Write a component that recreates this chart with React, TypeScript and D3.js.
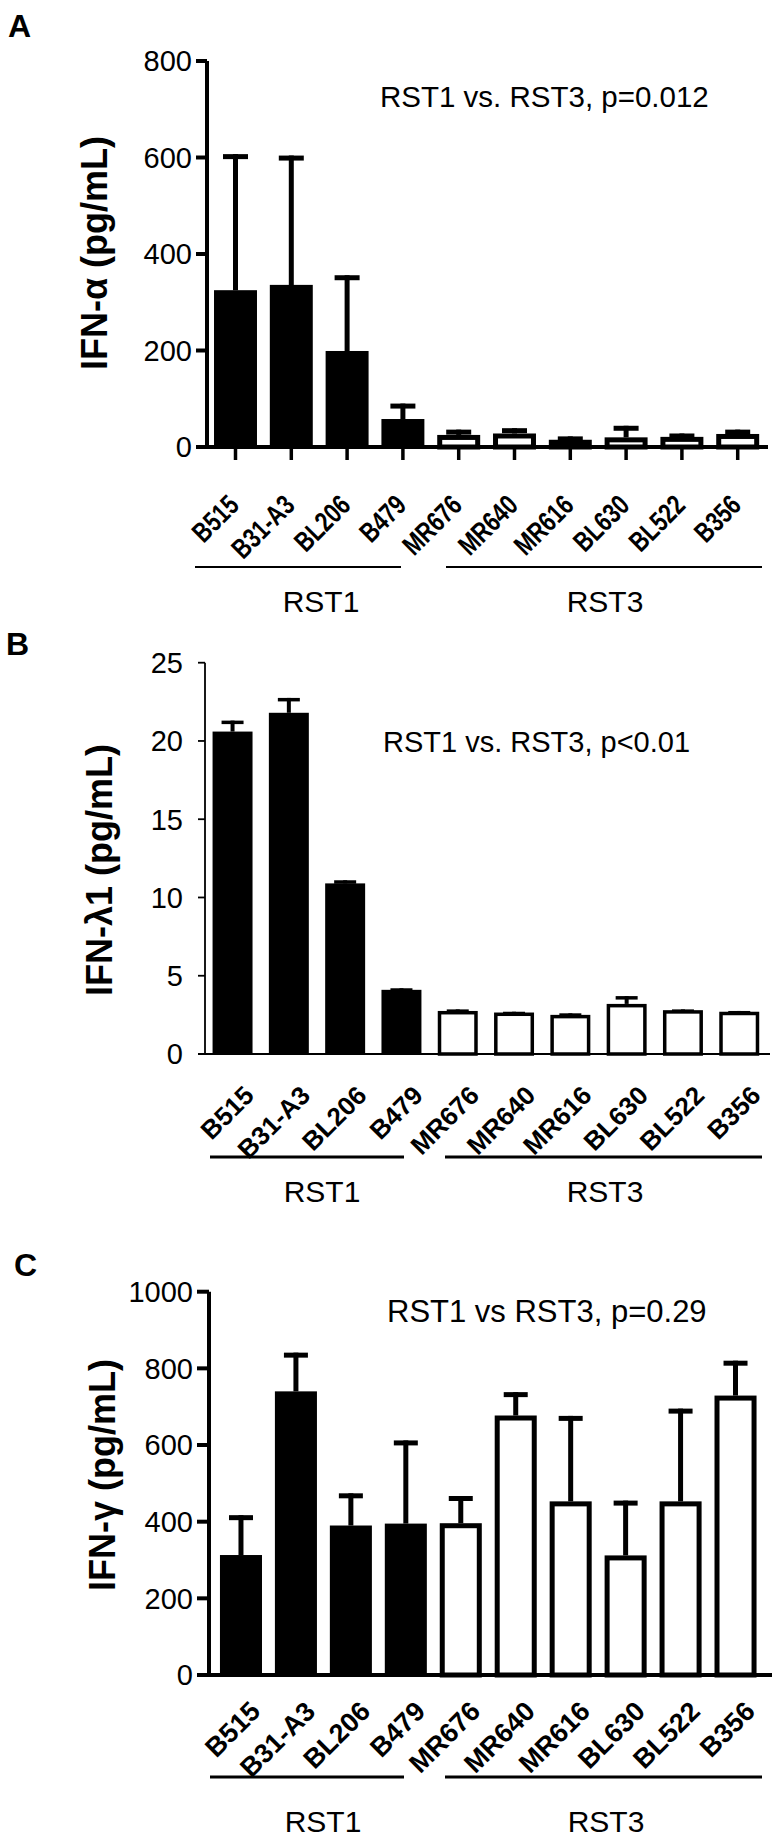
import React from 'react';
import * as d3 from 'd3';

const strains = ['B515', 'B31-A3', 'BL206', 'B479', 'MR676', 'MR640', 'MR616', 'BL630', 'BL522', 'B356'];
const strainGroup = ['RST1', 'RST1', 'RST1', 'RST1', 'RST3', 'RST3', 'RST3', 'RST3', 'RST3', 'RST3'];
const groupNames = ['RST1', 'RST3'];

const ifnAlphaMean = [325, 336, 199, 58, 25, 28, 15, 20, 21, 27];
const ifnAlphaSem = [282, 268, 157, 32, 11, 11, 7, 24, 7, 9];
const ifnAlphaTicks = [0, 200, 400, 600, 800];

const ifnLambdaMean = [20.6, 21.8, 10.9, 4.1, 2.75, 2.65, 2.5, 3.2, 2.8, 2.7];
const ifnLambdaSem = [0.7, 0.95, 0.2, 0.1, 0.1, 0.05, 0.1, 0.5, 0.05, 0.05];
const ifnLambdaTicks = [0, 5, 10, 15, 20, 25];

const ifnGammaMean = [313, 740, 390, 395, 396, 677, 453, 312, 453, 729];
const ifnGammaSem = [104, 101, 84, 217, 71, 61, 223, 143, 242, 91];
const ifnGammaTicks = [0, 200, 400, 600, 800, 1000];

const FONT = "'Liberation Sans', Arial, Helvetica, sans-serif";

type PanelCfg = {
  letter: string;
  letterX: number;
  letterY: number;
  means: number[];
  sems: number[];
  ticks: number[];
  yMax: number;
  yTop: number;
  y0: number;
  yAxisX: number;
  bandStart: number;
  bandEnd: number;
  bandPad: number;
  xAxisEnd: number;
  axisW: number;
  yTickLen: number;
  xTicks: boolean;
  tickLabelRight: number;
  barStroke: number;
  errStem: number;
  capW: number;
  capH: number;
  yLabel: string;
  yLabelX: number;
  yLabelY: number;
  note: string;
  noteX: number;
  noteY: number;
  noteSize: number;
  lblDx: number;
  lblY: number;
  lblSize: number;
  lblScaleX: number;
  lblAngle: number;
  lineY: number;
  lineSpans: [number, number][];
  lineW: number;
  grpX: number[];
  grpY: number;
};

function Panel({ c }: { c: PanelCfg }) {
  const x = d3
    .scaleBand<string>()
    .domain(strains)
    .range([c.bandStart, c.bandEnd])
    .paddingInner(c.bandPad)
    .paddingOuter(c.bandPad / 2);
  const y = d3.scaleLinear().domain([0, c.yMax]).range([c.y0, c.yTop]);
  const bw = x.bandwidth();
  return (
    <g>
      <text x={c.letterX} y={c.letterY} fontFamily={FONT} fontWeight="bold" fontSize={32}>
        {c.letter}
      </text>
      {strains.map((s, i) => {
        const x0 = x(s)!;
        const cx = x0 + bw / 2;
        const top = y(c.means[i]);
        const errTop = y(c.means[i] + c.sems[i]);
        const filled = strainGroup[i] === 'RST1';
        return (
          <g key={s}>
            <line x1={cx} x2={cx} y1={top} y2={errTop} stroke="#000" strokeWidth={c.errStem} />
            <line
              x1={cx - c.capW / 2}
              x2={cx + c.capW / 2}
              y1={errTop + c.capH / 2}
              y2={errTop + c.capH / 2}
              stroke="#000"
              strokeWidth={c.capH}
            />
            {filled ? (
              <rect x={x0} y={top} width={bw} height={c.y0 - top} fill="#000" />
            ) : (
              <rect
                x={x0 + c.barStroke / 2}
                y={top + c.barStroke / 2}
                width={bw - c.barStroke}
                height={Math.max(0, c.y0 - top - c.barStroke / 2)}
                fill="#fff"
                stroke="#000"
                strokeWidth={c.barStroke}
              />
            )}
          </g>
        );
      })}
      <line x1={c.yAxisX} x2={c.yAxisX} y1={c.yTop} y2={c.y0 + c.axisW / 2} stroke="#000" strokeWidth={c.axisW} />
      {c.ticks.map((t) => (
        <g key={t}>
          <line
            x1={c.yAxisX - c.yTickLen}
            x2={c.yAxisX}
            y1={y(t)}
            y2={y(t)}
            stroke="#000"
            strokeWidth={c.axisW}
          />
          <text
            x={c.tickLabelRight}
            y={y(t)}
            dy="0.36em"
            textAnchor="end"
            fontFamily={FONT}
            fontSize={29}
          >
            {t}
          </text>
        </g>
      ))}
      <line x1={c.yAxisX - c.yTickLen} x2={c.xAxisEnd} y1={c.y0} y2={c.y0} stroke="#000" strokeWidth={c.axisW} />
      {c.xTicks &&
        strains.map((s) => {
          const cx = x(s)! + bw / 2;
          return <line key={s} x1={cx} x2={cx} y1={c.y0} y2={c.y0 + 13} stroke="#000" strokeWidth={3.5} />;
        })}
      {strains.map((s) => {
        const cx = x(s)! + bw / 2;
        return (
          <text
            key={s}
            transform={`translate(${cx + c.lblDx},${c.lblY}) rotate(${-c.lblAngle}) scale(${c.lblScaleX},1)`}
            textAnchor="end"
            fontFamily={FONT}
            fontWeight="bold"
            fontSize={c.lblSize}
          >
            {s}
          </text>
        );
      })}
      {c.lineSpans.map(([a, b], i) => (
        <line key={i} x1={a} x2={b} y1={c.lineY} y2={c.lineY} stroke="#000" strokeWidth={c.lineW} />
      ))}
      {groupNames.map((g, i) => (
        <text key={g} x={c.grpX[i]} y={c.grpY} textAnchor="middle" fontFamily={FONT} fontSize={30}>
          {g}
        </text>
      ))}
      <text
        transform={`translate(${c.yLabelX},${c.yLabelY}) rotate(-90)`}
        textAnchor="middle"
        fontFamily={FONT}
        fontWeight="bold"
        fontSize={36}
      >
        {c.yLabel}
      </text>
      <text x={c.noteX} y={c.noteY} fontFamily={FONT} fontSize={c.noteSize}>
        {c.note}
      </text>
    </g>
  );
}

const panels: PanelCfg[] = [
  {
    letter: 'A',
    letterX: 8,
    letterY: 37,
    means: ifnAlphaMean,
    sems: ifnAlphaSem,
    ticks: ifnAlphaTicks,
    yMax: 800,
    yTop: 61,
    y0: 447,
    yAxisX: 207,
    bandStart: 207.6,
    bandEnd: 765.6,
    bandPad: 0.23,
    xAxisEnd: 768,
    axisW: 4,
    yTickLen: 11,
    xTicks: true,
    tickLabelRight: 192,
    barStroke: 5,
    errStem: 5,
    capW: 25,
    capH: 5,
    yLabel: 'IFN-\u03b1 (pg/mL)',
    yLabelX: 107,
    yLabelY: 253,
    note: 'RST1 vs. RST3, p=0.012',
    noteX: 380,
    noteY: 107,
    noteSize: 29.5,
    lblDx: 5,
    lblY: 507,
    lblSize: 28,
    lblScaleX: 0.78,
    lblAngle: 45,
    lineY: 567,
    lineSpans: [
      [195, 401],
      [446, 762],
    ],
    lineW: 2,
    grpX: [321, 605],
    grpY: 612,
  },
  {
    letter: 'B',
    letterX: 6,
    letterY: 655,
    means: ifnLambdaMean,
    sems: ifnLambdaSem,
    ticks: ifnLambdaTicks,
    yMax: 25,
    yTop: 662.7,
    y0: 1054,
    yAxisX: 205,
    bandStart: 204.4,
    bandEnd: 767.4,
    bandPad: 0.29,
    xAxisEnd: 770,
    axisW: 1.8,
    yTickLen: 7,
    xTicks: false,
    tickLabelRight: 183,
    barStroke: 3.5,
    errStem: 4,
    capW: 22,
    capH: 3.5,
    yLabel: 'IFN-\u03bb1 (pg/mL)',
    yLabelX: 112,
    yLabelY: 870,
    note: 'RST1 vs. RST3, p<0.01',
    noteX: 383,
    noteY: 752,
    noteSize: 29,
    lblDx: 23,
    lblY: 1097,
    lblSize: 26,
    lblScaleX: 1,
    lblAngle: 45,
    lineY: 1157,
    lineSpans: [
      [210, 404],
      [445, 762],
    ],
    lineW: 3,
    grpX: [322, 605],
    grpY: 1202,
  },
  {
    letter: 'C',
    letterX: 14,
    letterY: 1276,
    means: ifnGammaMean,
    sems: ifnGammaSem,
    ticks: ifnGammaTicks,
    yMax: 1000,
    yTop: 1291.7,
    y0: 1675,
    yAxisX: 209,
    bandStart: 213.5,
    bandEnd: 763,
    bandPad: 0.235,
    xAxisEnd: 772,
    axisW: 4,
    yTickLen: 12,
    xTicks: false,
    tickLabelRight: 193,
    barStroke: 5,
    errStem: 5,
    capW: 24,
    capH: 5,
    yLabel: 'IFN-\u03b3 (pg/mL)',
    yLabelX: 115,
    yLabelY: 1475,
    note: 'RST1 vs RST3, p=0.29',
    noteX: 387,
    noteY: 1322,
    noteSize: 31,
    lblDx: 21,
    lblY: 1713,
    lblSize: 27,
    lblScaleX: 1,
    lblAngle: 45,
    lineY: 1777,
    lineSpans: [
      [210, 404],
      [445, 762],
    ],
    lineW: 3,
    grpX: [323, 606],
    grpY: 1832,
  },
];

export default function App() {
  return (
    <svg
      width={776}
      height={1837}
      viewBox="0 0 776 1837"
      style={{ position: 'absolute', left: 0, top: 0, background: '#fff' }}
    >
      <rect width={776} height={1837} fill="#fff" />
      {panels.map((p) => (
        <Panel key={p.letter} c={p} />
      ))}
    </svg>
  );
}
